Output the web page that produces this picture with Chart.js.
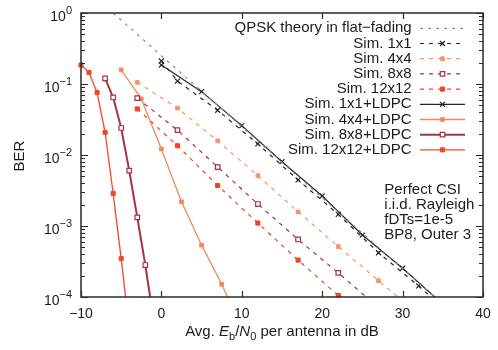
<!DOCTYPE html>
<html>
<head>
<meta charset="utf-8">
<script src="https://cdn.jsdelivr.net/npm/chart.js@4/dist/chart.umd.min.js"></script>
<style>
  html, body { margin: 0; padding: 0; background: #ffffff; }
  #wrap { width: 498px; height: 350px; position: relative; }
</style>
</head>
<body>
<div id="wrap"><canvas id="ber"></canvas></div>
<script>
// ---- data: Eb/N0 in dB and bit error rate per curve ----
const theoryX   = [-6, 0, 10, 20, 30, 35];
const theoryBER = [1.0, 0.25, 0.025, 0.0025, 0.00025, 0.000079];

const sim1x1X   = [0, 2, 7, 12, 17, 22, 27, 32, 37];
const sim1x1BER = [0.211, 0.110, 0.0427, 0.0143, 0.00445, 0.00146, 0.00042, 0.000143, 0.0000447];

const sim4x4X   = [-3, 2, 7, 12, 17, 22, 27, 32];
const sim4x4BER = [0.1057, 0.0457, 0.0158, 0.00513, 0.00158, 0.000513, 0.00017, 0.0000562];

const sim8x8X   = [-3, 2, 7, 12, 17, 22, 27];
const sim8x8BER = [0.0631, 0.0224, 0.00676, 0.00204, 0.000646, 0.000219, 0.0000708];

const sim12x12X   = [-3, 2, 7, 12, 17, 22];
const sim12x12BER = [0.0445, 0.0135, 0.00372, 0.0011, 0.000331, 0.000105];

const ldpc1x1X   = [0, 5, 10, 15, 20, 25, 30, 35];
const ldpc1x1BER = [0.185, 0.078, 0.0259, 0.00805, 0.00265, 0.000746, 0.000254, 0.0000794];

const ldpc4x4X   = [-5, -2.5, 0, 2.5, 5, 7.5, 10];
const ldpc4x4BER = [0.158, 0.0617, 0.01216, 0.00219, 0.000537, 0.000151, 0.0000355];

const ldpc8x8X   = [-7, -6, -5, -4, -3, -2, -1];
const ldpc8x8BER = [0.120, 0.0646, 0.024, 0.00603, 0.00132, 0.000282, 0.0000501];

const ldpc12x12X   = [-10, -9, -8, -7, -6, -5, -4];
const ldpc12x12BER = [0.185, 0.145, 0.0759, 0.0209, 0.00288, 0.000347, 0.0000355];

const seriesNames = [
  'QPSK theory in flat\u2212fading',
  'Sim. 1x1', 'Sim. 4x4', 'Sim. 8x8', 'Sim. 12x12',
  'Sim. 1x1+LDPC', 'Sim. 4x4+LDPC', 'Sim. 8x8+LDPC', 'Sim. 12x12+LDPC'
];

const xTicks = [-10, 0, 10, 20, 30, 40];
const yDecades = [0, -1, -2, -3, -4];
const noteLines = ['Perfect CSI', 'i.i.d. Rayleigh', 'fDTs=1e-5', 'BP8, Outer 3'];

// ---- styling ----
const FONT = '"Liberation Sans", Arial, Helvetica, sans-serif';
const TEXT = '#1c1c1c';

function pts(xs, ys) { return xs.map((x, i) => ({ x: x, y: ys[i] })); }

function series(label, xs, ys, s) {
  return {
    label: label,
    data: pts(xs, ys),
    borderColor: s.color,
    borderWidth: s.width || 1.2,
    borderDash: s.dash || [],
    pointStyle: s.marker || false,
    pointRadius: s.marker ? s.r : 0,
    pointBorderWidth: s.pbw || 1,
    pointBorderColor: s.color,
    pointBackgroundColor: s.open ? '#ffffff' : s.color,
    tension: 0,
    fill: false,
    clip: { left: 6, top: 0, right: 0, bottom: 0 }
  };
}

const DASH = [4, 5];
const datasets = [
  series(seriesNames[0], theoryX, theoryBER, { color: '#8c80d2', dash: [3, 5], width: 1.2 }),
  series(seriesNames[1], sim1x1X, sim1x1BER, { color: '#262626', dash: DASH, marker: 'crossRot', r: 3.5, pbw: 1.2 }),
  series(seriesNames[2], sim4x4X, sim4x4BER, { color: '#f7946c', dash: DASH, marker: 'rect', r: 2.6 }),
  series(seriesNames[3], sim8x8X, sim8x8BER, { color: '#a3323e', dash: DASH, marker: 'rect', r: 3.2, open: true, pbw: 1.2 }),
  series(seriesNames[4], sim12x12X, sim12x12BER, { color: '#ee4526', dash: DASH, marker: 'rect', r: 2.9 }),
  series(seriesNames[5], ldpc1x1X, ldpc1x1BER, { color: '#262626', marker: 'crossRot', r: 3.5, pbw: 1.2 }),
  series(seriesNames[6], ldpc4x4X, ldpc4x4BER, { color: '#f5885c', width: 1.3, marker: 'rect', r: 2.6 }),
  series(seriesNames[7], ldpc8x8X, ldpc8x8BER, { color: '#a4343f', width: 2, marker: 'rect', r: 3.2, open: true, pbw: 1.2 }),
  series(seriesNames[8], ldpc12x12X, ldpc12x12BER, { color: '#ef4b2b', width: 1.3, marker: 'rect', r: 2.9 })
];

function marker(ctx, ds, x, y) {
  const r = ds.pointRadius;
  if (!ds.pointStyle || !r) return;
  ctx.save();
  ctx.setLineDash([]);
  ctx.lineWidth = ds.pointBorderWidth;
  ctx.strokeStyle = ds.pointBorderColor;
  ctx.fillStyle = ds.pointBackgroundColor;
  if (ds.pointStyle === 'rect') {
    const h = r * Math.SQRT1_2;
    ctx.beginPath();
    ctx.rect(x - h, y - h, 2 * h, 2 * h);
    ctx.fill();
    ctx.stroke();
  } else {
    const h = r * Math.SQRT1_2;
    ctx.beginPath();
    ctx.moveTo(x - h, y - h); ctx.lineTo(x + h, y + h);
    ctx.moveTo(x - h, y + h); ctx.lineTo(x + h, y - h);
    ctx.stroke();
  }
  ctx.restore();
}

// frame, inward ticks, tick labels, axis titles, legend and note
const decorations = {
  id: 'decorations',
  afterDraw(chart) {
    const ctx = chart.ctx;
    const a = chart.chartArea;
    const xs = chart.scales.x, ys = chart.scales.y;
    ctx.save();

    // frame
    ctx.strokeStyle = '#2a2a2a';
    ctx.lineWidth = 1.5;
    ctx.setLineDash([]);
    ctx.strokeRect(a.left, a.top, a.right - a.left, a.bottom - a.top);

    // x ticks (bottom and top)
    ctx.lineWidth = 1.2;
    ctx.beginPath();
    xTicks.forEach(v => {
      const px = Math.round(xs.getPixelForValue(v)) + 0.5;
      ctx.moveTo(px, a.bottom); ctx.lineTo(px, a.bottom - 6);
      ctx.moveTo(px, a.top); ctx.lineTo(px, a.top + 6);
    });
    // y ticks (left and right), major and minor
    yDecades.forEach(d => {
      for (let k = 1; k <= 9; k++) {
        const v = k * Math.pow(10, d);
        if (v > 1.0000001 || v < 0.0000999) continue;
        const py = Math.round(ys.getPixelForValue(v)) + 0.5;
        const len = k === 1 ? 7 : 4;
        ctx.moveTo(a.left, py); ctx.lineTo(a.left + len, py);
        ctx.moveTo(a.right, py); ctx.lineTo(a.right - len, py);
      }
    });
    ctx.stroke();

    ctx.fillStyle = TEXT;

    // x tick labels
    ctx.font = '14px ' + FONT;
    ctx.textAlign = 'center';
    ctx.textBaseline = 'middle';
    xTicks.forEach(v => {
      const txt = v < 0 ? '\u2212' + Math.abs(v) : String(v);
      ctx.fillText(txt, xs.getPixelForValue(v), a.bottom + 17);
    });

    // y tick labels: 10 with superscript exponent
    ctx.textBaseline = 'alphabetic';
    ctx.textAlign = 'left';
    yDecades.forEach(d => {
      const py = ys.getPixelForValue(Math.pow(10, d));
      const expTxt = d < 0 ? '\u2212' + Math.abs(d) : String(d);
      ctx.font = '11px ' + FONT;
      const we = ctx.measureText(expTxt).width;
      ctx.font = '14px ' + FONT;
      const wb = ctx.measureText('10').width;
      const right = a.left - 9;
      ctx.fillText('10', right - we - wb, py + 7.5);
      ctx.font = '11px ' + FONT;
      ctx.fillText(expTxt, right - we, py + 0.5);
    });

    // y axis title
    ctx.save();
    ctx.font = '15px ' + FONT;
    ctx.textAlign = 'center';
    ctx.textBaseline = 'middle';
    ctx.translate(20, (a.top + a.bottom) / 2 + 1);
    ctx.rotate(-Math.PI / 2);
    ctx.fillText('BER', 0, 0);
    ctx.restore();

    // x axis title with italic symbols and subscripts
    const parts = [
      { t: 'Avg. ', f: '15px ' + FONT, dy: 0 },
      { t: 'E', f: 'italic 15px ' + FONT, dy: 0 },
      { t: 'b', f: '11px ' + FONT, dy: 4 },
      { t: '/', f: '15px ' + FONT, dy: 0 },
      { t: 'N', f: 'italic 15px ' + FONT, dy: 0 },
      { t: '0', f: '11px ' + FONT, dy: 4 },
      { t: ' per antenna in dB', f: '15px ' + FONT, dy: 0 }
    ];
    let total = 0;
    parts.forEach(p => { ctx.font = p.f; p.w = ctx.measureText(p.t).width; total += p.w; });
    let cx = (a.left + a.right) / 2 - total / 2;
    const base = a.bottom + 39;
    ctx.textAlign = 'left';
    ctx.textBaseline = 'alphabetic';
    parts.forEach(p => { ctx.font = p.f; ctx.fillText(p.t, cx, base + p.dy); cx += p.w; });

    // legend: right-aligned names followed by line samples
    const textRight = 411.7, lineL = 420, lineR = 465;
    chart.data.datasets.forEach((ds, i) => {
      const y = 28.3 + 15.2 * i;
      ctx.font = '15px ' + FONT;
      ctx.textAlign = 'right';
      ctx.textBaseline = 'middle';
      ctx.fillStyle = TEXT;
      ctx.fillText(ds.label, textRight, y);
      ctx.save();
      ctx.strokeStyle = ds.borderColor;
      ctx.lineWidth = ds.borderWidth;
      ctx.setLineDash(ds.borderDash || []);
      ctx.beginPath();
      ctx.moveTo(lineL, y); ctx.lineTo(lineR, y);
      ctx.stroke();
      ctx.restore();
      marker(ctx, ds, (lineL + lineR) / 2, y);
    });

    // simulation note
    ctx.font = '15px ' + FONT;
    ctx.textAlign = 'left';
    ctx.textBaseline = 'middle';
    ctx.fillStyle = TEXT;
    noteLines.forEach((t, i) => ctx.fillText(t, 384.3, 190 + 15 * i));

    ctx.restore();
  }
};

new Chart(document.getElementById('ber'), {
  type: 'line',
  data: { datasets: datasets },
  options: {
    responsive: true,
    maintainAspectRatio: false,
    animation: false,
    devicePixelRatio: 1,
    layout: { padding: { left: 81, top: 13, right: 15, bottom: 53 } },
    plugins: { legend: { display: false }, tooltip: { enabled: false } },
    scales: {
      x: { type: 'linear', min: -10, max: 40, display: false },
      y: { type: 'logarithmic', min: 0.0001, max: 1, display: false }
    }
  },
  plugins: [decorations]
});
</script>
</body>
</html>
